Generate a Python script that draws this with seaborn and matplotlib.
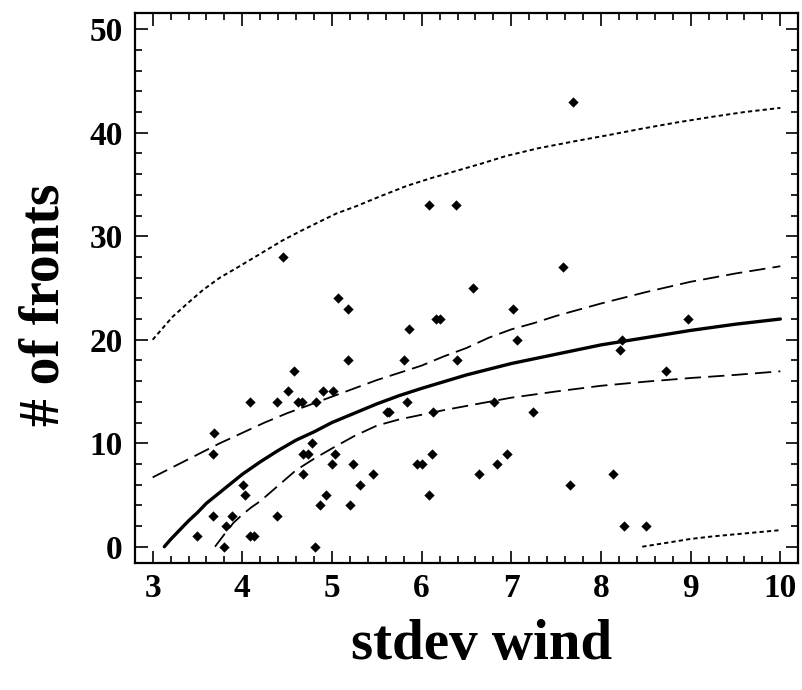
import matplotlib
matplotlib.use("Agg")
import matplotlib.pyplot as plt
import seaborn as sns
import pandas as pd
from matplotlib.ticker import MultipleLocator

# ---- scatter data (stdev wind, # of fronts) ----
wind = [5.18, 4.575, 4.51, 4.09, 4.39, 4.62, 4.67, 4.82, 4.90, 5.01, 3.68, 3.67,
        4.78, 4.68, 4.735, 5.03, 5.00, 5.23, 4.68, 4.01, 4.03, 4.93, 4.87, 5.20,
        3.67, 3.885, 4.39, 3.82, 3.49, 4.085, 4.13, 3.79, 4.81,
        5.86, 5.80, 6.39, 7.06, 5.84, 5.61, 5.64, 6.13, 6.81, 7.24, 5.95, 6.00,
        6.12, 6.84, 6.955, 5.46, 5.31, 6.64, 6.08, 7.65,
        8.97, 8.23, 8.215, 8.725, 8.13, 8.26, 8.50,
        4.45, 5.07, 5.18,
        7.69, 6.08, 6.38, 7.58, 6.57, 7.02, 6.16, 6.21]
fronts = [18, 17, 15, 14, 14, 14, 14, 14, 15, 15, 11, 9,
          10, 9, 9, 9, 8, 8, 7, 6, 5, 5, 4, 4,
          3, 3, 3, 2, 1, 1, 1, 0, 0,
          21, 18, 18, 20, 14, 13, 13, 13, 14, 13, 8, 8,
          9, 8, 9, 7, 6, 7, 5, 6,
          22, 20, 19, 17, 7, 2, 2,
          28, 24, 23,
          43, 33, 33, 27, 25, 23, 22, 22]

# ---- fitted curve ----
fit_x = [3.13, 3.2, 3.3, 3.4, 3.5, 3.6, 3.7, 3.8, 3.9, 4.0, 4.2, 4.4, 4.6, 4.8,
         5.0, 5.25, 5.5, 5.75, 6.0, 6.5, 7.0, 7.5, 8.0, 8.5, 9.0, 9.5, 10.0]
fit_y = [0.0, 0.7, 1.6, 2.5, 3.3, 4.2, 4.9, 5.6, 6.3, 7.0, 8.2, 9.3, 10.3, 11.1,
         12.0, 12.9, 13.8, 14.6, 15.3, 16.6, 17.7, 18.6, 19.5, 20.2, 20.9, 21.5, 22.0]

# ---- confidence band (dashed) ----
cu_x = [3.0, 3.25, 3.5, 3.75, 4.0, 4.25, 4.5, 4.75, 5.0, 5.25, 5.5, 5.75, 6.0,
        6.25, 6.5, 6.75, 7.0, 7.25, 7.5, 8.0, 8.5, 9.0, 9.5, 10.0]
cu_y = [6.7, 7.8, 8.9, 10.0, 11.0, 12.0, 12.9, 13.7, 14.5, 15.3, 16.1, 16.8, 17.5,
        18.4, 19.2, 20.2, 21.0, 21.6, 22.3, 23.5, 24.6, 25.6, 26.4, 27.1]
cl_x = [3.695, 3.8, 3.9, 4.0, 4.1, 4.2, 4.4, 4.6, 4.8, 5.0, 5.25, 5.5, 5.75, 6.0,
        6.25, 6.5, 7.0, 7.5, 8.0, 8.5, 9.0, 9.5, 10.0]
cl_y = [0.0, 1.2, 2.3, 3.1, 3.8, 4.4, 5.9, 7.4, 8.5, 9.5, 10.7, 11.7, 12.3, 12.75,
        13.2, 13.6, 14.4, 15.0, 15.55, 15.95, 16.3, 16.6, 16.95]

# ---- prediction band (dotted) ----
pu_x = [3.0, 3.1, 3.22, 3.4, 3.56, 3.75, 3.93, 4.2, 4.45, 4.65, 4.86, 5.05, 5.27,
        5.55, 5.83, 6.1, 6.38, 6.66, 6.94, 7.3, 7.72, 8.1, 8.46, 8.85, 9.21, 9.6, 10.0]
pu_y = [20.0, 21.0, 22.2, 23.6, 24.8, 26.0, 26.9, 28.3, 29.6, 30.5, 31.4, 32.2, 32.9,
        33.9, 34.85, 35.6, 36.3, 37.0, 37.75, 38.5, 39.2, 39.8, 40.4, 41.0, 41.5, 42.0, 42.4]
pl_x = [8.46, 8.75, 9.0, 9.25, 9.5, 9.75, 10.0]
pl_y = [0.0, 0.4, 0.75, 1.0, 1.2, 1.4, 1.6]

x_ticks = [3, 4, 5, 6, 7, 8, 9, 10]
y_ticks = [0, 10, 20, 30, 40, 50]

sns.set_theme(style="ticks")
plt.rcParams["font.family"] = ["Liberation Serif", "DejaVu Serif"]
plt.rcParams["font.weight"] = "bold"
plt.rcParams["text.color"] = "black"
plt.rcParams["axes.labelcolor"] = "black"
plt.rcParams["xtick.color"] = "black"
plt.rcParams["ytick.color"] = "black"

fig = plt.figure(figsize=(8.02, 6.90), dpi=100)
ax = fig.add_axes([135 / 802, 1 - 563 / 690, (798 - 135) / 802, (563 - 13) / 690])

def line(xs, ys, **kw):
    df = pd.DataFrame({"x": xs, "y": ys})
    sns.lineplot(data=df, x="x", y="y", sort=False, estimator=None, ax=ax,
                 color="black", **kw)

line(pu_x, pu_y, linewidth=1.4, linestyle=(0, (2.2, 1.6)))
line(pl_x, pl_y, linewidth=1.4, linestyle=(0, (2.2, 1.6)))
line(cu_x, cu_y, linewidth=1.3, linestyle=(0, (9, 4)))
line(cl_x, cl_y, linewidth=1.3, linestyle=(0, (9, 4)))
line(fit_x, fit_y, linewidth=2.4)

sns.scatterplot(x=wind, y=fronts, ax=ax, marker="D", s=24, color="black",
                edgecolor="black", linewidth=0.3, zorder=5)

ax.set_xlim(2.803, 10.197)
ax.set_ylim(-1.575, 51.57)
ax.set_xticks(x_ticks)
ax.set_yticks(y_ticks)
ax.xaxis.set_minor_locator(MultipleLocator(0.2))
ax.yaxis.set_minor_locator(MultipleLocator(2))
ax.tick_params(which="both", direction="in", top=True, right=True, width=1.2,
               colors="black", labelsize=24)
ax.tick_params(which="major", length=9)
ax.tick_params(which="minor", length=5)
ax.tick_params(axis="x", pad=7)
ax.tick_params(axis="y", pad=9)
for lab in ax.get_xticklabels() + ax.get_yticklabels():
    lab.set_fontweight("bold")
for sp in ax.spines.values():
    sp.set_linewidth(1.6)
    sp.set_color("black")

ax.set_xlabel("stdev wind", fontsize=41, fontweight="bold", color="black")
ax.set_ylabel("# of fronts", fontsize=40, fontweight="bold", color="black")
ax.xaxis.set_label_coords(0.522, -0.102)
ax.yaxis.set_label_coords(-0.098, 0.47)

fig.savefig("out.png", dpi=100)
